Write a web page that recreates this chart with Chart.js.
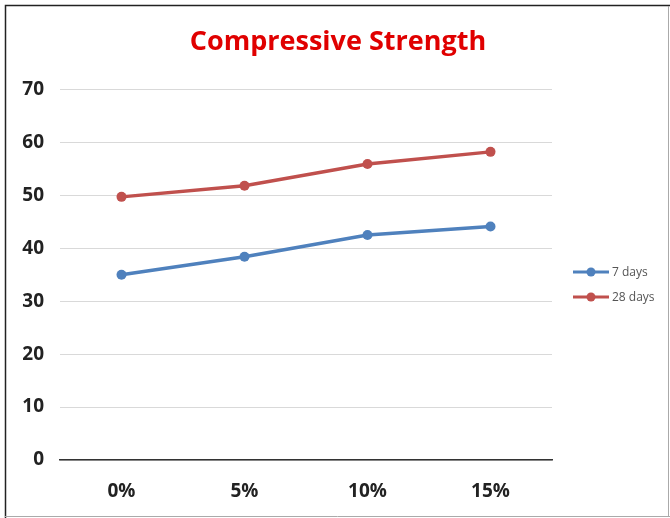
<!DOCTYPE html>
<html>
<head>
<meta charset="utf-8">
<script src="https://cdn.jsdelivr.net/npm/chart.js@4"></script>
<style>
  html, body { margin: 0; padding: 0; background: #fff; }
  #wrap { width: 670px; height: 518px; }
</style>
</head>
<body>
<div id="wrap"><canvas id="c" width="670" height="518"></canvas></div>
<script>
// Cement replacement levels on the x axis
const categories = ['0%', '5%', '10%', '15%'];
// Compressive strength (MPa) at each curing age
const days7 = [35.0, 38.4, 42.5, 44.1];
const days28 = [49.7, 51.8, 55.9, 58.2];
const seriesLabels = ['7 days', '28 days'];
const yTicks = [0, 10, 20, 30, 40, 50, 60, 70];

const BLUE = '#4f81bd';
const RED = '#c0504d';

// Outer frame around the whole figure
const framePlugin = {
  id: 'frame',
  afterDraw(chart) {
    const ctx = chart.ctx;
    ctx.save();
    ctx.strokeStyle = '#222';
    ctx.lineWidth = 1.5;
    ctx.beginPath();
    ctx.moveTo(5.5, 518);
    ctx.lineTo(5.5, 5.5);
    ctx.lineTo(670, 5.5);
    ctx.stroke();
    ctx.strokeStyle = '#aaa';
    ctx.lineWidth = 1;
    ctx.beginPath();
    ctx.moveTo(5, 516.5);
    ctx.lineTo(670, 516.5);
    ctx.moveTo(668.5, 6);
    ctx.lineTo(668.5, 517);
    ctx.stroke();
    ctx.restore();
  }
};

// Legend on the right: line sample with a marker, then the series name
const lineLegend = {
  id: 'lineLegend',
  afterDraw(chart) {
    const ctx = chart.ctx;
    const x0 = 573, x1 = 609, startY = 272, step = 25;
    ctx.save();
    chart.data.datasets.forEach((ds, i) => {
      const y = startY + i * step;
      ctx.strokeStyle = ds.borderColor;
      ctx.lineWidth = 3;
      ctx.beginPath();
      ctx.moveTo(x0, y);
      ctx.lineTo(x1, y);
      ctx.stroke();
      ctx.fillStyle = ds.borderColor;
      ctx.beginPath();
      ctx.arc((x0 + x1) / 2, y, 4.5, 0, Math.PI * 2);
      ctx.fill();
      ctx.fillStyle = '#555';
      ctx.font = '12px "Open Sans", sans-serif';
      ctx.textBaseline = 'middle';
      ctx.textAlign = 'left';
      ctx.fillText(ds.label, x1 + 3, y + 1);
    });
    ctx.restore();
  }
};

const tickFont = { family: '"Open Sans", sans-serif', size: 19, weight: 'bold' };

new Chart(document.getElementById('c'), {
  type: 'line',
  data: {
    labels: categories,
    datasets: [
      {
        label: seriesLabels[0],
        data: days7,
        borderColor: BLUE,
        backgroundColor: BLUE,
        borderWidth: 3.5,
        pointRadius: 5,
        pointHoverRadius: 5,
        pointBackgroundColor: BLUE,
        pointBorderWidth: 0,
        tension: 0
      },
      {
        label: seriesLabels[1],
        data: days28,
        borderColor: RED,
        backgroundColor: RED,
        borderWidth: 3.5,
        pointRadius: 5,
        pointHoverRadius: 5,
        pointBackgroundColor: RED,
        pointBorderWidth: 0,
        tension: 0
      }
    ]
  },
  options: {
    responsive: false,
    animation: false,
    devicePixelRatio: 1,
    layout: { padding: { left: 6, right: 0, top: 0, bottom: 0 } },
    plugins: {
      legend: { display: false },
      tooltip: { enabled: false },
      title: {
        display: true,
        text: 'Compressive Strength',
        color: '#e00000',
        font: { family: '"Open Sans", sans-serif', size: 27, weight: 'bold' },
        padding: { top: 26, bottom: 31 }
      }
    },
    scales: {
      x: {
        offset: true,
        grid: { display: false, drawTicks: false },
        border: { display: true, color: '#333', width: 1.5 },
        ticks: { color: '#222', padding: 20, font: tickFont },
        afterFit(scale) { scale.height = 58; }
      },
      y: {
        min: 0,
        max: 70,
        afterBuildTicks(scale) { scale.ticks = yTicks.map(v => ({ value: v })); },
        grid: { color: '#d9d9d9', lineWidth: 1, drawTicks: false },
        border: { display: false },
        ticks: { color: '#222', padding: 16, font: tickFont },
        afterFit(scale) { scale.width = 54; }
      },
      // empty right-hand band that holds the legend
      side: {
        position: 'right',
        grid: { display: false, drawTicks: false },
        border: { display: false },
        ticks: { display: false },
        afterFit(scale) { scale.width = 118; }
      }
    }
  },
  plugins: [framePlugin, lineLegend]
});
</script>
</body>
</html>
